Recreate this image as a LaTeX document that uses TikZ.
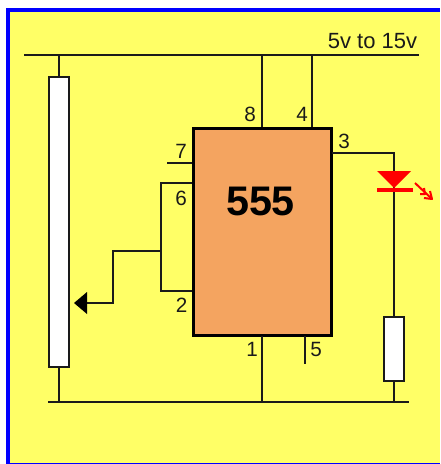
\documentclass[tikz,border=0pt]{standalone}
\usepackage{fontspec}
\setmainfont{Liberation Sans}
\definecolor{bg}{HTML}{FFFF66}
\definecolor{ic}{HTML}{F4A460}
\definecolor{ink}{HTML}{1A1A1A}
\definecolor{bord}{HTML}{0000FF}
\tikzset{x=0.75pt,y=-0.75pt,
  wire/.style={line width=1.5pt*0.75,ink},
  comp/.style={draw=ink,line width=1.6pt,fill=white,minimum width=0pt,inner sep=0pt,rectangle},
  pinlabel/.style={font=\fontsize{15.5}{15.5}\selectfont,text=ink,inner sep=0pt,anchor=center},
  ray/.style={red,line width=1.5pt,line join=round}}
\begin{document}
\begin{tikzpicture}
\useasboundingbox (0,0) rectangle (440,464);
\fill[white] (0,0) rectangle (440,464);
\fill[bord] (6,8) rectangle (440,464);
\fill[bg] (10,12) rectangle (440,463);
% components
\node[comp,minimum width=15pt,minimum height=217.5pt] (pot) at (59,222) {};
\node[draw=black,line width=2.25pt,fill=ic,minimum width=103.5pt,minimum height=155.25pt,inner sep=0pt,rectangle] (chip) at (262,231.5) {};
\node[comp,minimum width=15pt,minimum height=48pt] (res) at (394,349) {};
\node[font=\bfseries\fontsize{31}{31}\selectfont,text=black,inner sep=0pt] (name) at (260.5,201.5) {555};
% rails
\coordinate (tl) at (24,55); \coordinate (tr) at (419,55);
\coordinate (bl) at (48,402); \coordinate (br) at (409,402);
\draw[wire] (tl) -- (tr);
\draw[wire] (bl) -- (br);
\draw[wire] (pot.north) -- (pot.north |- tl);
\draw[wire] (pot.south) -- (pot.south |- bl);
\coordinate (p8) at (262,127); \coordinate (p4) at (312,127);
\draw[wire] (p8) -- (p8 |- tl);
\draw[wire] (p4) -- (p4 |- tl);
\coordinate (p1) at (262,336);
\draw[wire] (p1) -- (p1 |- bl);
\coordinate (p5a) at (305,336); \coordinate (p5b) at (305,364);
\draw[wire] (p5a) -- (p5b);
\coordinate (p7a) at (167,163); \coordinate (p7b) at (192,163);
\draw[wire] (p7a) -- (p7b);
\coordinate (p6) at (192,183); \coordinate (p2) at (192,291);
\coordinate (j) at (161,251);
\draw[wire] (p6) -| (p2 -| j) -- (p2);
\coordinate (wa) at (113,251); \coordinate (wb) at (113,303); \coordinate (tip) at (84,303);
\draw[wire] (j) -- (wa) -- (wb) -- (tip);
\node[coordinate] (wiper) at (74,303) {};
\fill[black] (wiper) -- (87,292) -- (87,314) -- cycle;
% LED path
\coordinate (p3) at (332,153); \coordinate (c) at (394,153);
\draw[wire] (p3) -- (c) -- (res.north);
\draw[wire] (res.south) -- (res.south |- bl);
\fill[red] (377,171) -- (411,171) -- (394,188) -- cycle;
\fill[red] (377,188) rectangle (413,192);
\draw[ray] (415,183) -- (432,199);
\draw[ray] (420,194) -- (425,194) -- (424,188);
\draw[ray] (424,198) -- (432,199) -- (430,191);
% labels
\node[pinlabel] (l8) at (250,114) {8};
\node[pinlabel] (l4) at (302,114) {4};
\node[pinlabel] (l3) at (344,141) {3};
\node[pinlabel] (l7) at (181,151) {7};
\node[pinlabel] (l6) at (181,198) {6};
\node[pinlabel] (l2) at (181.5,305) {2};
\node[pinlabel] (l1) at (252,349) {1};
\node[pinlabel] (l5) at (316,349) {5};
\node[pinlabel,font=\fontsize{16.5}{16.5}\selectfont] (sup) at (372.5,41) {5v to 15v};
\end{tikzpicture}
\end{document}
